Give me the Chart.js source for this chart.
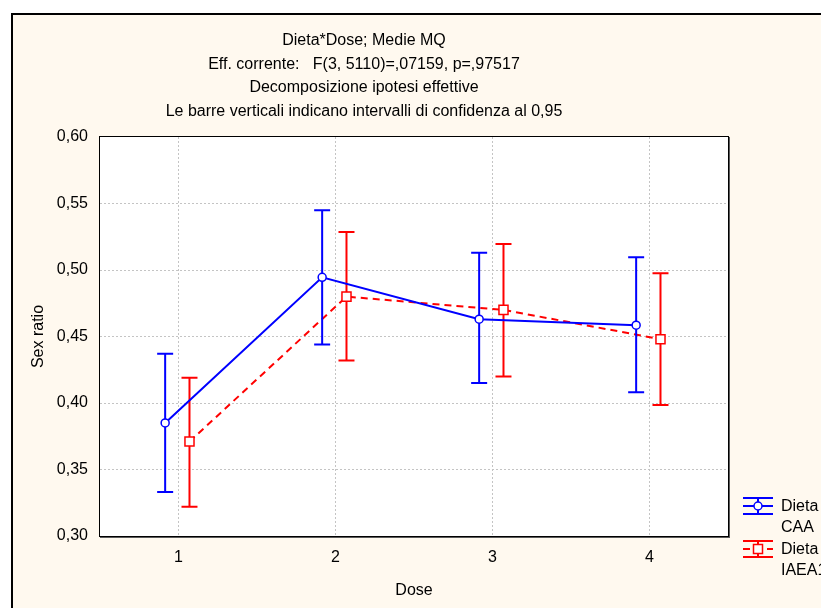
<!DOCTYPE html>
<html>
<head>
<meta charset="utf-8">
<script src="https://cdn.jsdelivr.net/npm/chart.js@4.4.0/dist/chart.umd.min.js"></script>
<style>
  html, body { margin: 0; padding: 0; background: #fff; overflow: hidden; }
  #frame { position: absolute; left: 11px; top: 13px; width: 900px; height: 700px;
           border: 2px solid #000; background: #fff9ef; }
  #wrap { position: absolute; left: 0; top: 0; width: 821px; height: 608px; }
</style>
</head>
<body>
<div id="frame"></div>
<div id="wrap"><canvas id="c" width="821" height="608"></canvas></div>
<script>
// data
const doses = [1, 2, 3, 4];
const legendLines = [["Dieta", "CAA"], ["Dieta", "IAEA1"]];
const caaMean = [0.385, 0.4945, 0.463, 0.4585];
const caaLow = [0.333, 0.444, 0.415, 0.408];
const caaHigh = [0.437, 0.545, 0.513, 0.5095];
const iaeaMean = [0.371, 0.480, 0.470, 0.448];
const iaeaLow = [0.322, 0.432, 0.420, 0.3985];
const iaeaHigh = [0.419, 0.5285, 0.5195, 0.4975];
const yMin = 0.30, yMax = 0.60, yStep = 0.05;
const titleLines = [
  "Dieta*Dose; Medie MQ",
  "Eff. corrente:   F(3, 5110)=,07159, p=,97517",
  "Decomposizione ipotesi effettive",
  "Le barre verticali indicano intervalli di confidenza al 0,95"
];

const FONT = "'Liberation Sans', Arial, sans-serif";
const BLUE = "#0000ff";
const RED = "#ff0000";

Chart.defaults.font.family = FONT;
Chart.defaults.font.size = 16;
Chart.defaults.color = "#000";

// draws the confidence bars of each dataset just before its line
const errorBars = {
  id: "errorBars",
  beforeDatasetDraw(chart, args) {
    const ds = chart.data.datasets[args.index];
    const y = chart.scales.y;
    const ctx = chart.ctx;
    ctx.save();
    ctx.strokeStyle = ds.borderColor;
    ctx.lineWidth = 2;
    args.meta.data.forEach((pt, i) => {
      const top = y.getPixelForValue(ds.high[i]);
      const bot = y.getPixelForValue(ds.low[i]);
      ctx.beginPath();
      ctx.moveTo(pt.x, top); ctx.lineTo(pt.x, bot);
      ctx.moveTo(pt.x - 8, top); ctx.lineTo(pt.x + 8, top);
      ctx.moveTo(pt.x - 8, bot); ctx.lineTo(pt.x + 8, bot);
      ctx.stroke();
    });
    ctx.restore();
  }
};

// white plot area, frame, titles, legend
const decor = {
  id: "decor",
  beforeDraw(chart) {
    const { ctx, chartArea: a } = chart;
    ctx.save();
    ctx.fillStyle = "#fff";
    ctx.fillRect(a.left, a.top, a.right - a.left, a.bottom - a.top);
    ctx.restore();
  },
  afterDraw(chart) {
    const { ctx, chartArea: a } = chart;
    ctx.save();
    // frame with shadow
    ctx.fillStyle = "#5a5a5a";
    ctx.fillRect(a.right, a.top, 2, a.bottom - a.top + 2);
    ctx.fillRect(a.left, a.bottom, a.right - a.left + 2, 2);
    ctx.strokeStyle = "#000";
    ctx.lineWidth = 1;
    ctx.strokeRect(a.left - 0.5, a.top - 0.5, a.right - a.left + 1, a.bottom - a.top + 1);

    // titles
    ctx.fillStyle = "#000";
    ctx.font = "16px " + FONT;
    ctx.textAlign = "center";
    ctx.textBaseline = "middle";
    titleLines.forEach((t, i) => ctx.fillText(t, 364, 41 + i * 23.5));

    // legend
    ctx.textAlign = "left";
    chart.data.datasets.forEach((ds, i) => {
      const cy = a.bottom - 30 + i * 43;
      const x0 = a.right + 15, x1 = a.right + 45, cx = (x0 + x1) / 2;
      ctx.strokeStyle = ds.borderColor;
      ctx.lineWidth = 2;
      ctx.setLineDash([]);
      ctx.beginPath();
      ctx.moveTo(x0, cy - 8); ctx.lineTo(x1, cy - 8);
      ctx.moveTo(x0, cy + 8); ctx.lineTo(x1, cy + 8);
      ctx.moveTo(cx, cy - 8); ctx.lineTo(cx, cy + 8);
      ctx.stroke();
      ctx.setLineDash(ds.borderDash || []);
      ctx.beginPath();
      ctx.moveTo(x0, cy); ctx.lineTo(x1, cy);
      ctx.stroke();
      ctx.setLineDash([]);
      ctx.fillStyle = "#fff";
      ctx.lineWidth = 1.5;
      ctx.beginPath();
      if (ds.pointStyle === "rect") {
        ctx.rect(cx - 4.5, cy - 4.5, 9, 9);
      } else {
        ctx.arc(cx, cy, 4, 0, Math.PI * 2);
      }
      ctx.fill();
      ctx.stroke();
      ctx.fillStyle = "#000";
      legendLines[i].forEach((t, j) => ctx.fillText(t, a.right + 53, cy + 1 + j * 21));
    });
    ctx.restore();
  }
};

const gridColor = (c) => (c.tick && (c.tick.value <= yMin + 1e-9 || c.tick.value >= yMax - 1e-9)) ? "rgba(0,0,0,0)" : "#c4c4c4";

new Chart(document.getElementById("c"), {
  type: "line",
  data: {
    datasets: [
      {
        label: legendLines[0].join(" "),
        data: doses.map((d, i) => ({ x: d - 0.085, y: caaMean[i] })),
        low: caaLow,
        high: caaHigh,
        borderColor: BLUE,
        borderWidth: 2,
        pointStyle: "circle",
        pointRadius: 4,
        pointBorderWidth: 1.5,
        pointBackgroundColor: "#fff",
        pointBorderColor: BLUE
      },
      {
        label: legendLines[1].join(" "),
        data: doses.map((d, i) => ({ x: d + 0.07, y: iaeaMean[i] })),
        low: iaeaLow,
        high: iaeaHigh,
        borderColor: RED,
        borderWidth: 2,
        borderDash: [7, 5],
        pointStyle: "rect",
        pointRadius: 6.4,
        pointBorderWidth: 1.5,
        pointBackgroundColor: "#fff",
        pointBorderColor: RED
      }
    ]
  },
  options: {
    responsive: false,
    animation: false,
    layout: { padding: { left: 0, top: 137, right: 93, bottom: 0 } },
    plugins: { legend: { display: false }, title: { display: false }, tooltip: { enabled: false } },
    scales: {
      x: {
        type: "linear",
        min: 0.5,
        max: 4.5,
        afterBuildTicks: (s) => { s.ticks = doses.map((v) => ({ value: v })); },
        afterFit: (s) => { s.height = 72; },
        ticks: { padding: 12, callback: (v) => String(v) },
        grid: { color: "#c4c4c4", drawTicks: false },
        border: { display: false, dash: [2, 2] },
        title: { display: true, text: "Dose", padding: { top: 0, bottom: 8 } }
      },
      y: {
        min: yMin,
        max: yMax,
        afterFit: (s) => { s.width = 100; },
        ticks: { stepSize: yStep, padding: 12, callback: (v) => v.toFixed(2).replace(".", ",") },
        grid: { color: gridColor, drawTicks: false },
        border: { display: false, dash: [2, 2] },
        title: { display: true, text: "Sex ratio", padding: { top: 29, bottom: 0 } }
      }
    }
  },
  plugins: [errorBars, decor]
});
</script>
</body>
</html>
